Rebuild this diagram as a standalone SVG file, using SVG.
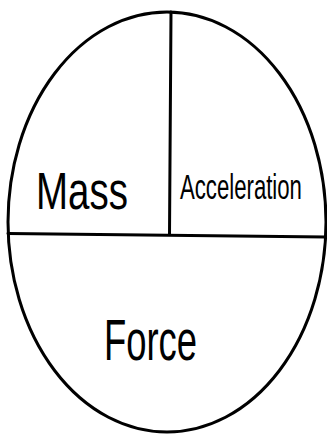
<svg xmlns="http://www.w3.org/2000/svg" width="327" height="434" viewBox="0 0 327 434">
<style>
.ln{fill:none;stroke:#000;stroke-width:3;stroke-linecap:round}
.lb{font-family:"Liberation Sans","DejaVu Sans",sans-serif;fill:#000;font-weight:normal}
</style>
<rect width="327" height="434" fill="#fff"/>
<g id="outline"><ellipse class="ln" cx="167" cy="222" rx="159" ry="210"/></g>
<g id="connectors">
<path class="ln" d="M8 233.5 L326 237"/>
<path class="ln" d="M171 12 L169.5 234"/>
</g>
<g id="mass"><text class="lb" transform="translate(36,209) scale(0.74,1)" font-size="52">Mass</text></g>
<g id="acceleration"><text class="lb" transform="translate(180,199) scale(0.616,1)" font-size="36">Acceleration</text></g>
<g id="force"><text class="lb" transform="translate(104,360) scale(0.628,1)" font-size="58">Force</text></g>
</svg>
